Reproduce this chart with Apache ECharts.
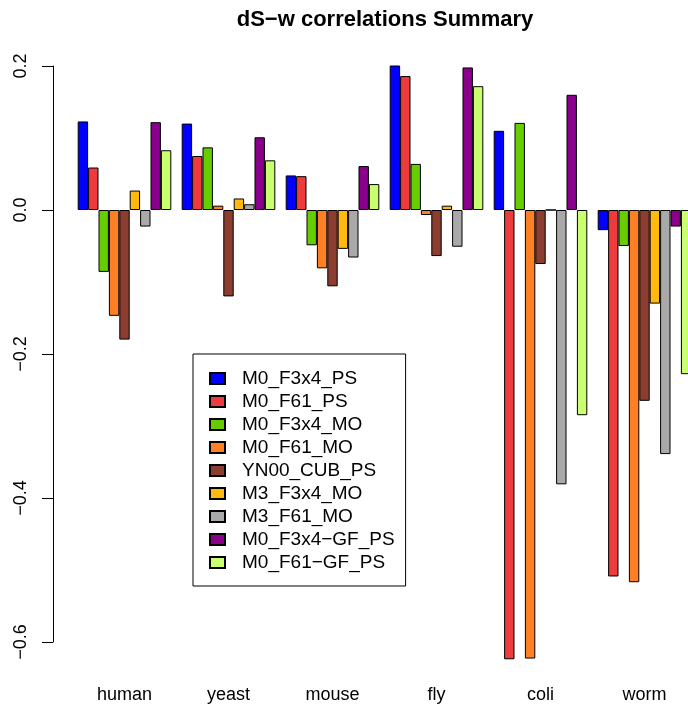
<!DOCTYPE html>
<html>
<head>
<meta charset="utf-8">
<script src="https://cdn.jsdelivr.net/npm/echarts@6/dist/echarts.min.js"></script>
<style>
  html, body { margin: 0; padding: 0; background: #fff; overflow: hidden; }
  /* the plotting area runs past the right edge of the window */
  #chart { width: 730px; height: 709px; }
</style>
</head>
<body>
<div id="chart"></div>
<script>
// Organisms along the x axis
const organisms = ['human', 'yeast', 'mouse', 'fly', 'coli', 'worm'];

// Correlation values per method, one entry per organism
const M0_F3x4_PS    = [0.123, 0.120, 0.048, 0.201, 0.110, -0.028];
const M0_F61_PS     = [0.059, 0.075, 0.047, 0.186, -0.624, -0.509];
const M0_F3x4_MO    = [-0.086, 0.087, -0.049, 0.064, 0.121, -0.050];
const M0_F61_MO     = [-0.147, 0.006, -0.081, -0.007, -0.623, -0.517];
const YN00_CUB_PS   = [-0.180, -0.120, -0.106, -0.064, -0.075, -0.265];
const M3_F3x4_MO    = [0.027, 0.016, -0.054, 0.006, 0.000, -0.130];
const M3_F61_MO     = [-0.023, 0.008, -0.066, -0.051, -0.381, -0.339];
const M0_F3x4_GF_PS = [0.122, 0.101, 0.061, 0.198, 0.160, -0.023];
const M0_F61_GF_PS  = [0.083, 0.069, 0.036, 0.172, -0.285, -0.228];

// Legend names (R draws the hyphen as a minus sign)
const methodNames = ['M0_F3x4_PS', 'M0_F61_PS', 'M0_F3x4_MO', 'M0_F61_MO', 'YN00_CUB_PS',
                     'M3_F3x4_MO', 'M3_F61_MO', 'M0_F3x4\u2212GF_PS', 'M0_F61\u2212GF_PS'];
const methodValues = [M0_F3x4_PS, M0_F61_PS, M0_F3x4_MO, M0_F61_MO, YN00_CUB_PS,
                      M3_F3x4_MO, M3_F61_MO, M0_F3x4_GF_PS, M0_F61_GF_PS];
const methodColors = ['#0000FF', '#EE3B3B', '#66CD00', '#FF7F24', '#8B3E2F',
                      '#FFB90F', '#A9A9A9', '#8B008B', '#CAFF70'];

// Visible y axis ticks
const yTicks = { min: -0.6, max: 0.2, step: 0.2 };

const chart = echarts.init(document.getElementById('chart'), null, { renderer: 'canvas' });

const fontFamily = '"Liberation Sans", Arial, Helvetica, sans-serif';
const barWidth = 10.4;

const series = methodNames.map((name, i) => ({
  name: name,
  type: 'bar',
  xAxisIndex: 0,
  yAxisIndex: 0,
  data: methodValues[i],
  barWidth: barWidth,
  barGap: '0%',
  itemStyle: { color: methodColors[i], borderColor: '#000', borderWidth: 1 },
  emphasis: { disabled: true },
  animation: false
}));

chart.setOption({
  animation: false,
  backgroundColor: '#fff',
  title: {
    text: 'dS\u2212w correlations Summary',
    left: 380,
    textAlign: 'center',
    top: 4,
    textStyle: { fontFamily: fontFamily, fontWeight: 'bold', fontSize: 22, color: '#000' }
  },
  legend: {
    orient: 'vertical',
    left: 193,
    top: 354,
    data: methodNames,
    itemWidth: 15,
    itemHeight: 11,
    itemGap: 4,
    padding: [15, 11, 14, 16],
    borderColor: '#000',
    borderWidth: 1,
    selectedMode: false,
    icon: 'rect',
    textStyle: {
      fontFamily: fontFamily, fontSize: 19, color: '#000', lineHeight: 18,
      padding: [0, 0, 0, 12]
    }
  },
  grid: [
    // plotting region for the bars: spans 0.2 down to -0.65
    { left: 72.5, top: 66, width: 624, height: 612, containLabel: false },
    // region used only for the left value axis, 0.2 down to -0.6
    { left: 53, top: 66, width: 1, height: 576, containLabel: false }
  ],
  xAxis: [
    {
      gridIndex: 0,
      type: 'category',
      data: organisms,
      axisLine: { show: false },
      axisTick: { show: false },
      axisLabel: { fontFamily: fontFamily, fontSize: 18, color: '#000', margin: 8 },
      splitLine: { show: false }
    },
    {
      gridIndex: 1,
      type: 'value',
      show: false
    }
  ],
  yAxis: [
    {
      gridIndex: 0,
      type: 'value',
      min: -0.65,
      max: 0.2,
      show: false,
      splitLine: { show: false }
    },
    {
      gridIndex: 1,
      type: 'value',
      min: yTicks.min,
      max: yTicks.max,
      interval: yTicks.step,
      axisLine: { show: true, lineStyle: { color: '#000', width: 1 } },
      axisTick: { show: true, length: 11, lineStyle: { color: '#000', width: 1 } },
      splitLine: { show: false },
      axisLabel: {
        rotate: 90,
        margin: 23,
        fontFamily: fontFamily,
        fontSize: 18,
        color: '#000',
        formatter: v => v.toFixed(1).replace('-', '\u2212')
      }
    }
  ],
  series: series
});
</script>
</body>
</html>
